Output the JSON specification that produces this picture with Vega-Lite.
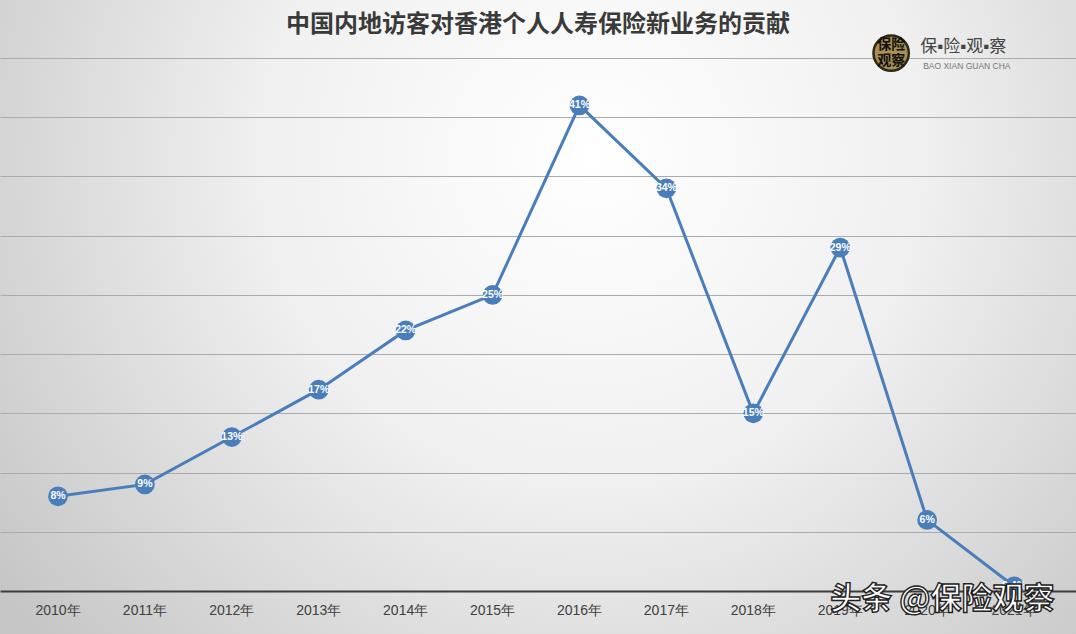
{
  "$schema": "https://vega.github.io/schema/vega-lite/v6.json",
  "width": 1076,
  "height": 634,
  "autosize": {"type": "none"},
  "padding": 0,
  "background": "#d8d8d8",
  "view": {
    "stroke": null,
    "fill": {
      "gradient": "radial",
      "x1": 0.55, "y1": 0.35, "r1": 0,
      "x2": 0.55, "y2": 0.35, "r2": 0.68,
      "stops": [
        {"offset": 0, "color": "#ffffff"},
        {"offset": 0.45, "color": "#f0f0f0"},
        {"offset": 1, "color": "#c6c6c6"}
      ]
    }
  },
  "title": {
    "text": "中国内地访客对香港个人人寿保险新业务的贡献",
    "font": "Noto Sans CJK SC",
    "fontSize": 24,
    "fontWeight": "bold",
    "color": "#3a3a3a",
    "anchor": "middle",
    "frame": "group",
    "baseline": "alphabetic",
    "offset": -56
  },
  "datasets": {
    "main": [
      {"year": "2010年", "value": 8, "label": "8%"},
      {"year": "2011年", "value": 9, "label": "9%"},
      {"year": "2012年", "value": 13, "label": "13%"},
      {"year": "2013年", "value": 17, "label": "17%"},
      {"year": "2014年", "value": 22, "label": "22%"},
      {"year": "2015年", "value": 25, "label": "25%"},
      {"year": "2016年", "value": 41, "label": "41%"},
      {"year": "2017年", "value": 34, "label": "34%"},
      {"year": "2018年", "value": 15, "label": "15%"},
      {"year": "2019年", "value": 29, "label": "29%"},
      {"year": "2020年", "value": 6, "label": "6%"},
      {"year": "2021年", "value": 0.4, "label": "0.4%"}
    ],
    "single": [{"k": 1}]
  },
  "layer": [
    {
      "data": {"name": "main"},
      "encoding": {
        "x": {
          "field": "year",
          "type": "ordinal",
          "sort": null,
          "scale": {"type": "band", "paddingInner": 0, "paddingOuter": 0.19, "align": 0.44},
          "axis": {
            "title": null,
            "orient": "bottom",
            "offset": -43,
            "labelAngle": 0,
            "labelFont": "Liberation Sans",
            "labelFontSize": 14,
            "labelColor": "#404040",
            "labelPadding": 12,
            "ticks": false,
            "domainColor": "#3c3c3c",
            "domainWidth": 2,
            "grid": false
          }
        },
        "y": {
          "field": "value",
          "type": "quantitative",
          "scale": {"domain": [-3.63, 49.9], "nice": false, "zero": false},
          "axis": {
            "title": null,
            "values": [5, 10, 15, 20, 25, 30, 35, 40, 45],
            "labels": false,
            "ticks": false,
            "domain": false,
            "grid": true,
            "gridColor": "#ababab",
            "gridWidth": 1
          }
        }
      },
      "layer": [
        {"mark": {"type": "line", "color": "#4a7ebb", "strokeWidth": 3}},
        {"mark": {"type": "circle", "size": 390, "color": "#4a7ebb", "opacity": 1}},
        {
          "mark": {"type": "text", "color": "#ffffff", "font": "Liberation Sans", "fontSize": 10.5, "fontWeight": "bold", "baseline": "middle", "align": "center"},
          "encoding": {"text": {"field": "label"}}
        }
      ]
    },
    {
      "data": {"name": "single"},
      "mark": {"type": "circle", "size": 1250, "fill": "#a89050", "stroke": "#2e2818", "strokeWidth": 2.5, "opacity": 1},
      "encoding": {
        "x": {"datum": "2020年", "type": "ordinal", "bandPosition": 0.086},
        "y": {"datum": 45.42, "type": "quantitative"}
      }
    },
    {
      "data": {"name": "single"},
      "mark": {"type": "text", "text": ["保险", "观察"], "lineHeight": 16, "font": "Noto Sans CJK SC", "fontSize": 14, "fontWeight": "bold", "color": "#111111", "align": "center", "baseline": "middle", "dy": -8},
      "encoding": {
        "x": {"datum": "2020年", "type": "ordinal", "bandPosition": 0.086},
        "y": {"datum": 45.42, "type": "quantitative"}
      }
    },
    {
      "data": {"name": "single"},
      "mark": {"type": "text", "text": "头条 @保险观察", "font": "Noto Sans CJK SC", "fontSize": 31, "fontWeight": "bold", "color": "#ffffff", "stroke": "#222222", "strokeWidth": 1.4, "align": "left", "baseline": "middle", "dx": -10},
      "encoding": {
        "x": {"datum": "2019年", "type": "ordinal"},
        "y": {"datum": -0.8, "type": "quantitative"}
      }
    },
    {
      "data": {"name": "single"},
      "mark": {"type": "text", "text": "保▪险▪观▪察", "font": "Liberation Sans, Noto Sans CJK SC", "fontSize": 17, "letterSpacing": 2, "color": "#444444", "align": "left", "baseline": "middle", "dx": -7},
      "encoding": {
        "x": {"datum": "2020年", "type": "ordinal"},
        "y": {"datum": 45.93, "type": "quantitative"}
      }
    },
    {
      "data": {"name": "single"},
      "mark": {"type": "text", "text": "BAO XIAN GUAN CHA", "font": "Liberation Sans", "fontSize": 8.5, "letterSpacing": 0.8, "color": "#777777", "align": "left", "baseline": "middle", "dx": -4},
      "encoding": {
        "x": {"datum": "2020年", "type": "ordinal"},
        "y": {"datum": 44.33, "type": "quantitative"}
      }
    }
  ]
}
